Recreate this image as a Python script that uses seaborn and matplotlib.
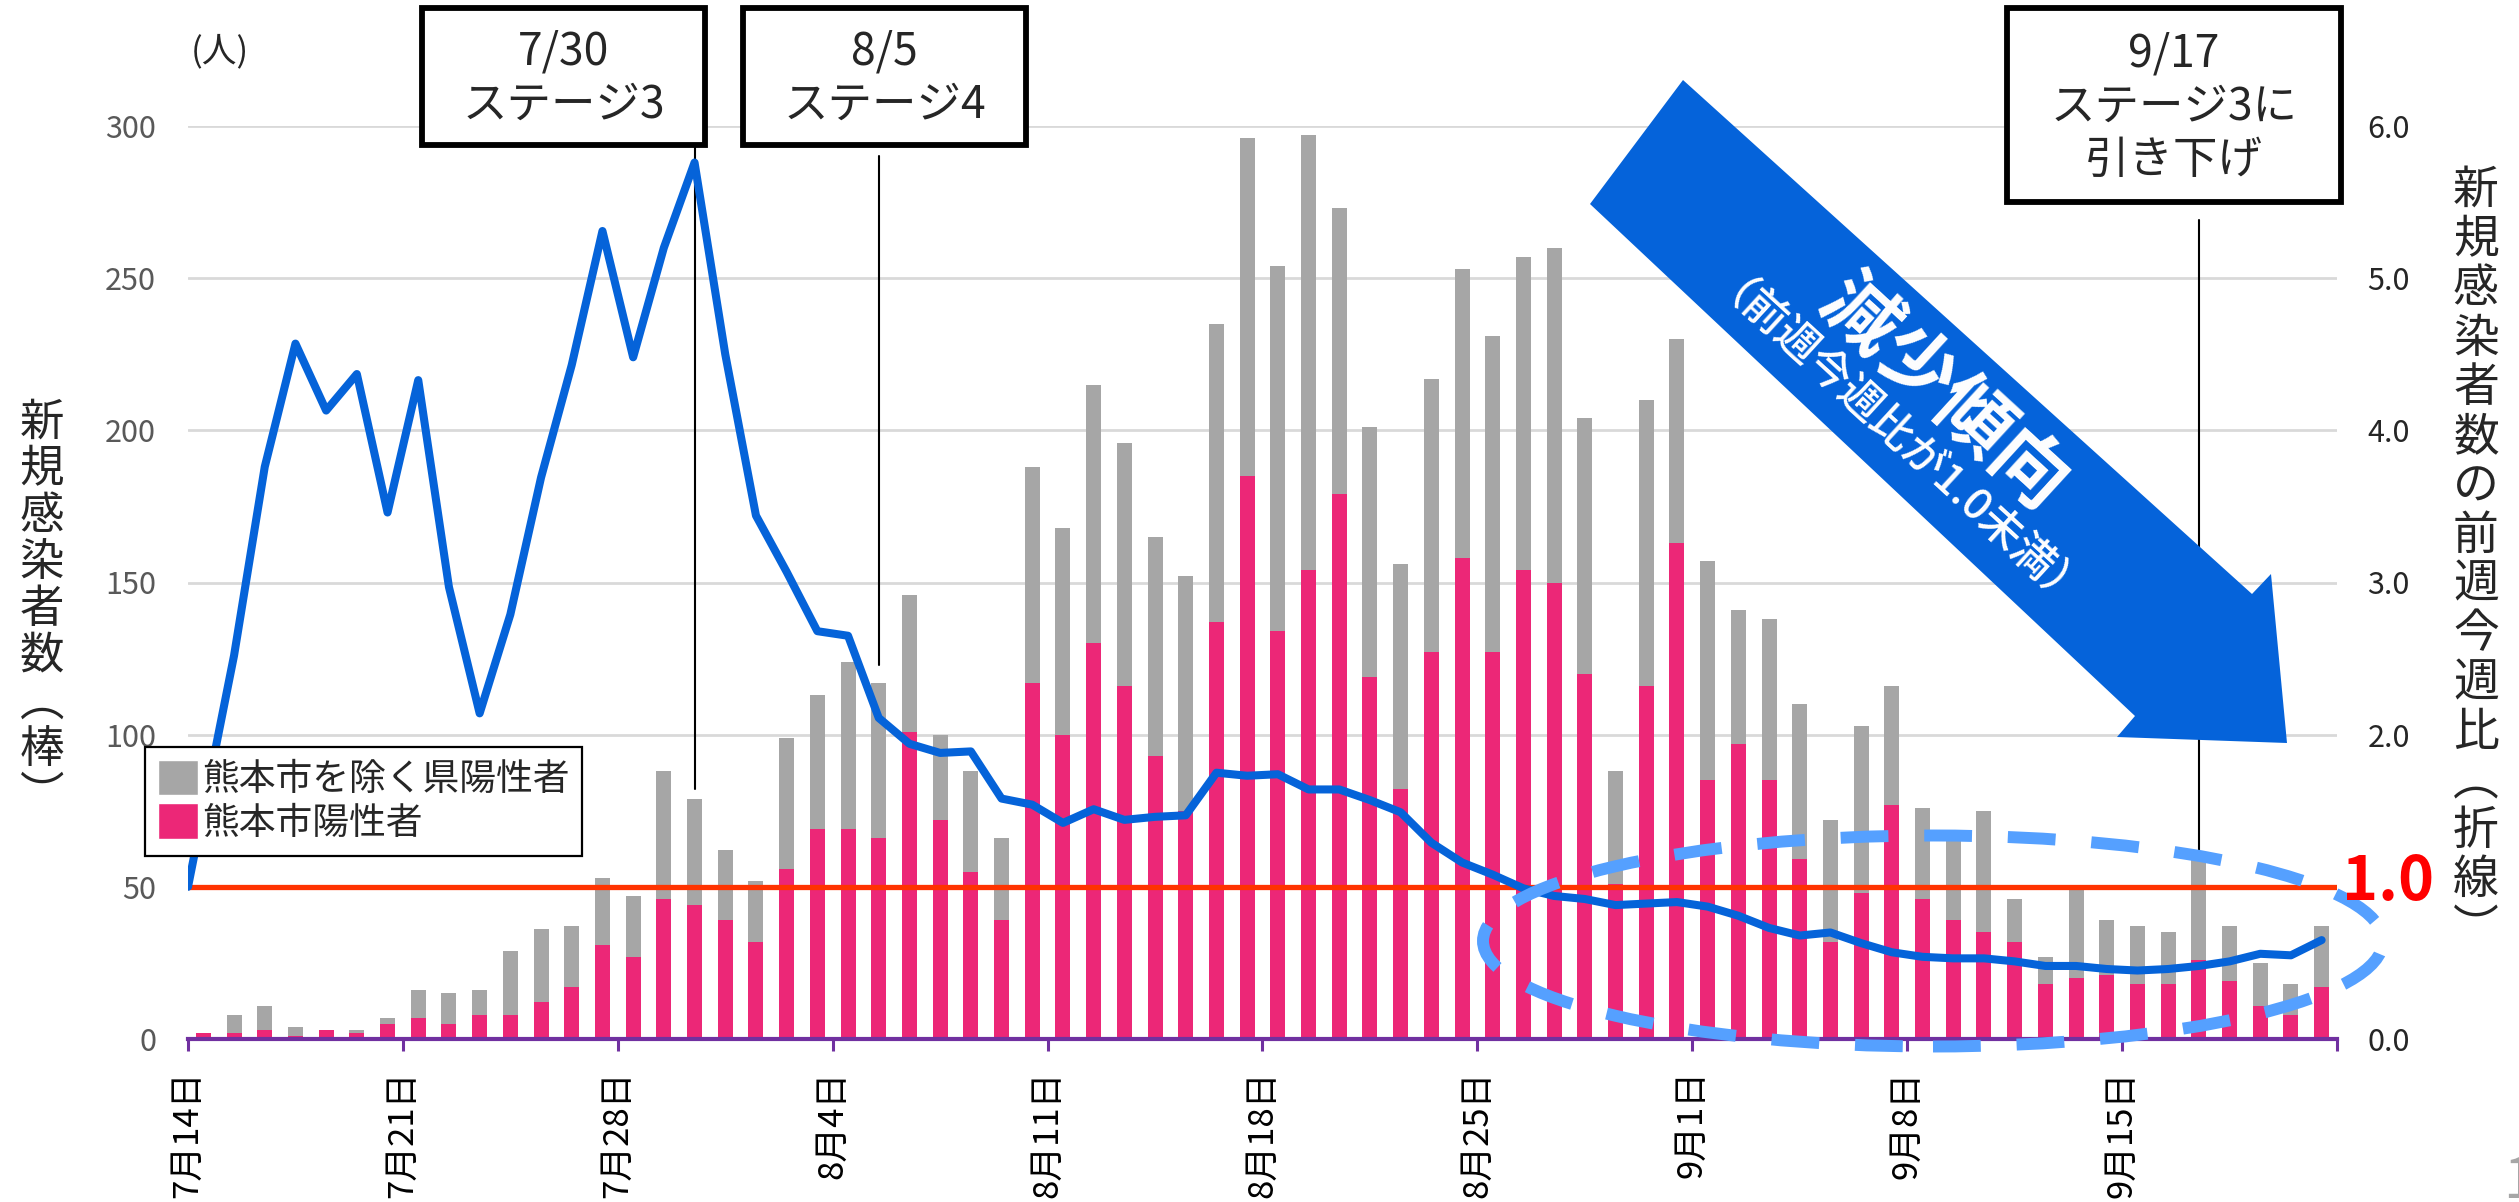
import numpy as np
import pandas as pd
import matplotlib
matplotlib.use("Agg")
import matplotlib.pyplot as plt
import seaborn as sns
from matplotlib.patches import Polygon, Ellipse, Rectangle, Patch

# ---------------- data ----------------
dates = pd.date_range("2020-07-14", periods=70)
day_labels = [f"{d.month}月{d.day}日" for d in dates]

total = [2, 8, 11, 4, 3, 3, 7, 16, 15, 16,
         29, 36, 37, 53, 47, 88, 79, 62, 52, 99,
         113, 124, 117, 146, 100, 88, 66, 188, 168, 215,
         196, 165, 152, 235, 296, 254, 297, 273, 201, 156,
         217, 253, 231, 257, 260, 204, 88, 210, 230, 157,
         141, 138, 110, 72, 103, 116, 76, 66, 75, 46,
         27, 50, 39, 37, 35, 59, 37, 25, 18, 37]
city = [2, 2, 3, 1, 3, 2, 5, 7, 5, 8,
        8, 12, 17, 31, 27, 46, 44, 39, 32, 56,
        69, 69, 66, 101, 72, 55, 39, 117, 100, 130,
        116, 93, 75, 137, 185, 134, 154, 179, 119, 82,
        127, 158, 127, 154, 150, 120, 51, 116, 163, 85,
        97, 85, 59, 32, 48, 77, 46, 39, 35, 32,
        18, 20, 21, 18, 18, 26, 19, 11, 8, 17]
ratio = [1.00, 2.52, 3.76, 4.57, 4.13, 4.37, 3.46, 4.33, 2.97, 2.14,
         2.79, 3.69, 4.43, 5.31, 4.48, 5.20, 5.76, 4.50, 3.44, 3.07,
         2.68, 2.65, 2.11, 1.94, 1.88, 1.89, 1.58, 1.54, 1.42, 1.51,
         1.44, 1.46, 1.47, 1.75, 1.73, 1.74, 1.64, 1.64, 1.57, 1.49,
         1.29, 1.16, 1.08, 0.99, 0.94, 0.92, 0.88, 0.89, 0.90, 0.87,
         0.81, 0.73, 0.68, 0.70, 0.63, 0.57, 0.54, 0.53, 0.53, 0.51,
         0.48, 0.48, 0.46, 0.45, 0.46, 0.48, 0.51, 0.56, 0.55, 0.65]

tick_labels = ["7月14日", "7月21日", "7月28日", "8月4日", "8月11日",
               "8月18日", "8月25日", "9月1日", "9月8日", "9月15日"]
left_ticks = [0, 50, 100, 150, 200, 250, 300]
right_ticks = [0.0, 1.0, 2.0, 3.0, 4.0, 5.0, 6.0]
legend_labels = ["熊本市を除く県陽性者", "熊本市陽性者"]
stage_idx = [16, 22, 65]
stage_text = ["7/30\nステージ3", "8/5\nステージ4", "9/17\nステージ3に\n引き下げ"]
threshold = 1.0

# ---------------- style ----------------
sns.set_style("white")
plt.rcParams["font.family"] = ["Noto Sans CJK JP", "DejaVu Sans"]

GRAY = "#A6A6A6"
PINK = "#EC2777"
BLUE = "#0563D9"
RED = "#FF3300"
PURPLE = "#7030A0"
LIGHTBLUE = "#55A0FF"

W, H = 2519, 1202
fig = plt.figure(figsize=(W / 100, H / 100), dpi=100)


def fpt(x, y):
    return (x / W, 1 - y / H)


AX_L, AX_R, AX_T, AX_B = 188, 2337, 126, 1039
ax = fig.add_axes([AX_L / W, 1 - AX_B / H, (AX_R - AX_L) / W, (AX_B - AX_T) / H])

n = len(total)
df = pd.DataFrame({"idx": np.arange(n), "total": total, "city": city})
sns.barplot(data=df, x="idx", y="total", color=GRAY, saturation=1, width=0.49,
            errorbar=None, ax=ax, linewidth=0)
sns.barplot(data=df, x="idx", y="city", color=PINK, saturation=1, width=0.49,
            errorbar=None, ax=ax, linewidth=0)

XLIM = (-0.5, n - 0.5)
ax.set_xlim(*XLIM)
ax.set_ylim(0, 300)
ax.set_yticks(left_ticks)
ax.set_yticklabels([str(v) for v in left_ticks])
ax.tick_params(axis="y", length=0, pad=23, labelsize=22, labelcolor="#595959")
ax.grid(axis="y", color="#D9D9D9", lw=2)
ax.grid(axis="x", visible=False)
ax.set_axisbelow(True)

tick_pos = [k * 7 - 0.5 for k in range(len(tick_labels))] + [n - 0.5]
ax.set_xticks(tick_pos)
ax.set_xticklabels(tick_labels + [""], rotation=90)
ax.tick_params(axis="x", direction="out", length=8.6, width=2.2, color=PURPLE,
               pad=14, labelsize=25, labelcolor="black", bottom=True)
for s in ["left", "right", "top"]:
    ax.spines[s].set_visible(False)
ax.spines["bottom"].set_color(PURPLE)
ax.spines["bottom"].set_linewidth(3)
ax.set_xlabel("")
ax.set_ylabel("")

# ---------------- secondary axis ----------------
ax2 = ax.twinx()
x_line = np.arange(n, dtype=float)
x_line[0] = XLIM[0]
ax2.axhline(threshold, color=RED, lw=3.8, zorder=2)
sns.lineplot(x=x_line, y=ratio, ax=ax2, color=BLUE, linewidth=5.8, sort=False,
             legend=False, zorder=3)
ax2.set_ylim(0, 6)
ax2.set_xlim(*XLIM)
ax.set_xlim(*XLIM)
ax2.set_yticks(right_ticks)
ax2.set_yticklabels(["" if v == threshold else f"{v:.1f}" for v in right_ticks])
ax2.tick_params(axis="y", length=0, pad=22, labelsize=22, labelcolor="#262626")
for s in ["left", "right", "top", "bottom"]:
    ax2.spines[s].set_visible(False)
ax2.set_ylabel("")
ax2.grid(False)

# legend
handles = [Patch(facecolor=GRAY), Patch(facecolor=PINK)]
leg = ax2.legend(handles, legend_labels, loc="upper left",
                 bbox_to_anchor=fpt(145, 747), bbox_transform=fig.transFigure,
                 borderaxespad=0, frameon=True, fancybox=False, edgecolor="black",
                 framealpha=1, fontsize=26.5, handlelength=1.1, handleheight=1.1,
                 handletextpad=0.1, labelspacing=0.12, borderpad=0.35)
leg.get_frame().set_linewidth(1.6)
leg.set_zorder(20)

# stage boxes and connector lines
boxes = [(422, 8, 705, 145), (743, 8, 1026, 145), (2007, 8, 2341, 202)]
line_top_px = [147, 156, 220]
gaps = [3, 6, 0]


def px_to_left(py):
    return (AX_B - py) / (AX_B - AX_T) * 300


for (x0, y0, x1, y1), txt, i, ltop, g in zip(boxes, stage_text, stage_idx, line_top_px, gaps):
    ax.plot([i, i], [total[i] + g, px_to_left(ltop)], color="black", lw=1.5,
            clip_on=False, zorder=5)
    rect = Rectangle(fpt(x0, y1), (x1 - x0) / W, (y1 - y0) / H, transform=fig.transFigure,
                     facecolor="white", edgecolor="black", lw=4.2, zorder=30)
    fig.add_artist(rect)
    fig.text(*fpt((x0 + x1) / 2, (y0 + y1) / 2 + 2), txt, ha="center", va="center",
             fontsize=32, linespacing=1.2, zorder=31)

# big arrow
arrow_px = [(1683, 80), (2252, 594), (2271, 574), (2287, 743), (2117, 737),
            (2135, 716), (1590, 204)]
arrow = Polygon([fpt(x, y) for x, y in arrow_px], closed=True, transform=fig.transFigure,
                facecolor="#0563DA", edgecolor="none", zorder=25)
fig.add_artist(arrow)
fig.text(*fpt(1944, 394), "減少傾向", rotation=-42.5, rotation_mode="anchor",
         ha="center", va="center", fontsize=55, fontweight="bold", color="white", zorder=26)
fig.text(*fpt(1890, 456), "（前週今週比が1.0未満）", rotation=-42.5, rotation_mode="anchor",
         ha="center", va="center", fontsize=31, fontweight="medium", color="white", zorder=26)

# dashed ellipse
ell = Ellipse(fpt(1933, 941), 900 / W, 211 / H, transform=fig.transFigure,
              facecolor="none", edgecolor=LIGHTBLUE, lw=8.6, linestyle=(0, (4, 3)), zorder=24)
fig.add_artist(ell)

# labels
fig.text(*fpt(42, 609), "\n".join("新規感染者数︵棒︶"), ha="center", va="center",
         fontsize=32, linespacing=1.02)
fig.text(*fpt(2476, 560), "\n".join("新規感染者数の前週今週比︵折線︶"), ha="center",
         va="center", fontsize=33, linespacing=1.02)
fig.text(*fpt(220, 52), "(人)", ha="center", va="center", fontsize=25)
fig.text(*fpt(2388, 882), f"{threshold:.1f}", ha="center", va="center", fontsize=44,
         fontweight="bold", color="#FF0000", zorder=27)
fig.text(*fpt(2503, 1182), "1", ha="left", va="center", fontsize=40, color="#A6A6A6")

fig.savefig("out.png", dpi=100)
